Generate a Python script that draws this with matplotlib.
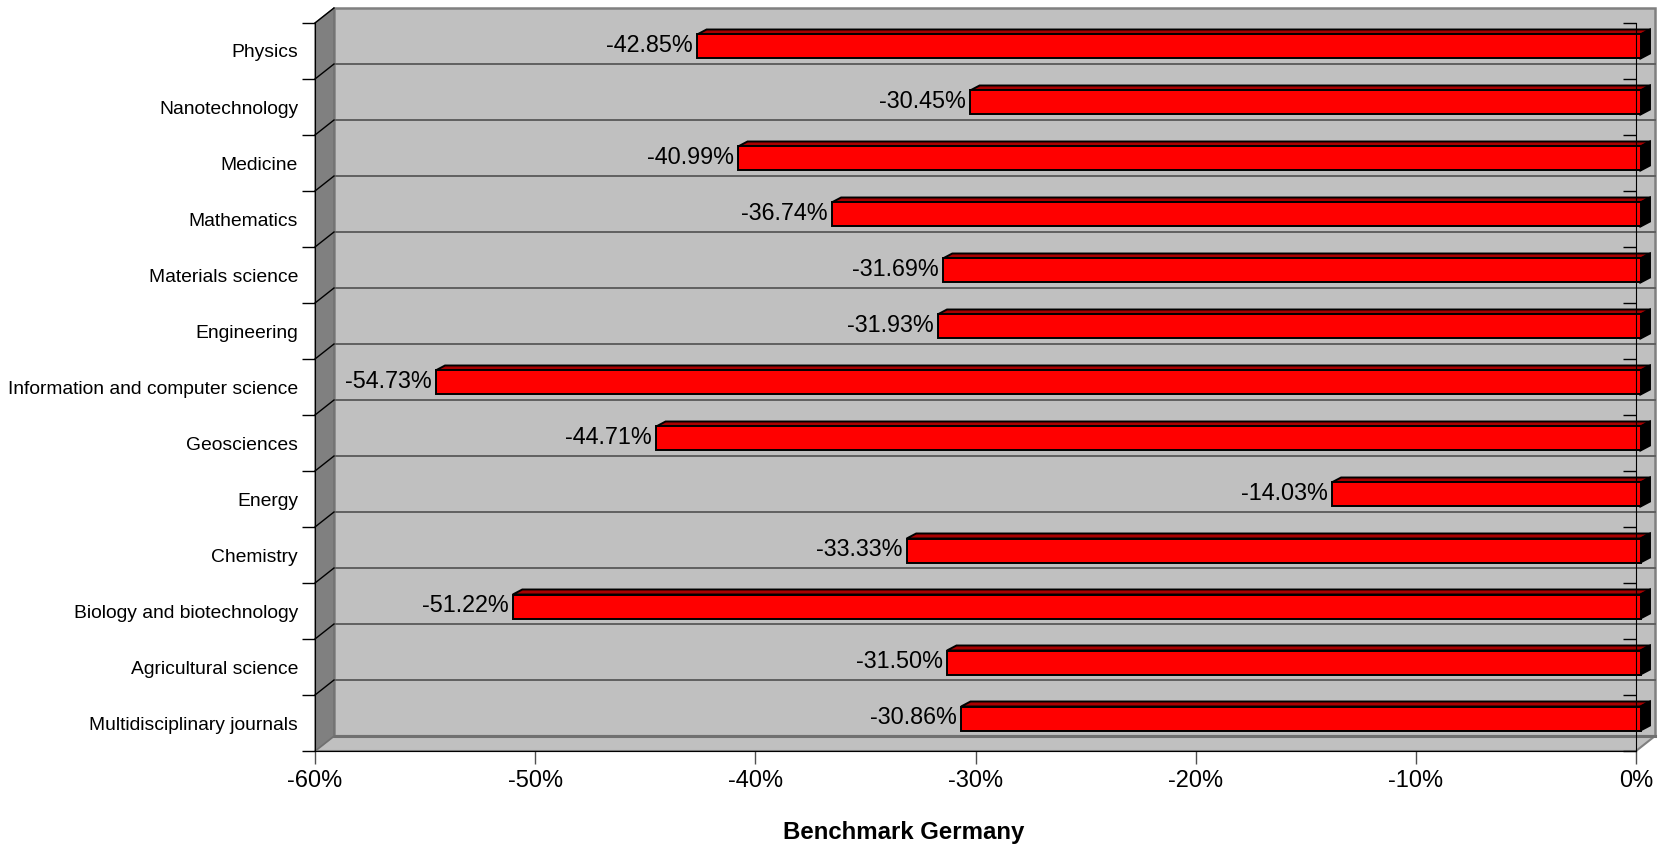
import matplotlib
matplotlib.use("Agg")
import matplotlib.pyplot as plt
from matplotlib.patches import Polygon, Rectangle

plt.rcParams['font.family'] = ['Liberation Sans', 'DejaVu Sans']

# ---- data (top to bottom as shown) ----
categories = ["Physics", "Nanotechnology", "Medicine", "Mathematics",
              "Materials science", "Engineering",
              "Information and computer science", "Geosciences", "Energy",
              "Chemistry", "Biology and biotechnology", "Agricultural science",
              "Multidisciplinary journals"]
values = [-42.85, -30.45, -40.99, -36.74, -31.69, -31.93, -54.73,
          -44.71, -14.03, -33.33, -51.22, -31.50, -30.86]
xticks = [-60, -50, -40, -30, -20, -10, 0]
xticklabels = ["-60%", "-50%", "-40%", "-30%", "-20%", "-10%", "0%"]
xlabel = "Benchmark Germany"

W, H = 1660, 846
fig = plt.figure(figsize=(W / 100, H / 100), dpi=100)

L, R, T, B = 315, 1636, 23, 751
ax = fig.add_axes([L / W, 1 - B / H, (R - L) / W, (B - T) / H])
n = len(categories)
xmin, xmax = xticks[0], xticks[-1]
ax.set_xlim(xmin, xmax)
ax.set_ylim(-0.5, n - 0.5)
ax.patch.set_visible(False)

# pixel -> data conversion
px_x = (xmax - xmin) / (R - L)
px_y = n / (B - T)
DXP, DYP = 19, 15
dx = DXP * px_x
dy = DYP * px_y
ylo, yhi = -0.5, n - 0.5

wall = '#C0C0C0'
side = '#808080'
edge = '#808080'

# back wall
ax.add_patch(Rectangle((xmin + dx, ylo + dy), xmax - xmin, n, facecolor=wall,
                       edgecolor=edge, lw=1.8, clip_on=False, zorder=0.5))
# gridlines on back wall
for k in range(1, n):
    ax.plot([xmin + dx, xmax + dx], [ylo + k + dy] * 2, color='#606060',
            lw=1.4, clip_on=False, zorder=0.6)
# floor
ax.add_patch(Polygon([(xmin, ylo), (xmax, ylo), (xmax + dx, ylo + dy),
                      (xmin + dx, ylo + dy)], closed=True, facecolor=wall,
                     edgecolor=edge, lw=1.5, clip_on=False, zorder=0.7))
ax.plot([xmin + dx, xmax + dx], [ylo + dy] * 2, color='#707070', lw=2.2,
        clip_on=False, zorder=0.75)
# side wall
ax.add_patch(Polygon([(xmin, ylo), (xmin + dx, ylo + dy), (xmin + dx, yhi + dy),
                      (xmin, yhi)], closed=True, facecolor=side,
                     edgecolor='#707070', lw=1.0, clip_on=False, zorder=0.8))
for k in range(1, n + 1):
    ax.plot([xmin, xmin + dx], [ylo + k, ylo + k + dy], color='black', lw=1.0,
            clip_on=False, zorder=0.85)

# bars (front / back face offsets in pixels)
ox1, oy1 = 4.5 * px_x, 4.5 * px_y
ox2, oy2 = 14 * px_x, 9.5 * px_y
bh = 24 * px_y
for idx, (cat, v) in enumerate(zip(categories, values)):
    y = n - 1 - idx
    y0, y1 = y - bh / 2, y + bh / 2
    # top face
    ax.add_patch(Polygon([(v + ox1, y1 + oy1), (0 + ox1, y1 + oy1),
                          (0 + ox2, y1 + oy2), (v + ox2, y1 + oy2)],
                         closed=True, facecolor='#A80000', edgecolor='black',
                         lw=1.4, clip_on=False, zorder=2))
    # right face
    ax.add_patch(Polygon([(0 + ox1, y0 + oy1), (0 + ox2, y0 + oy2),
                          (0 + ox2, y1 + oy2), (0 + ox1, y1 + oy1)],
                         closed=True, facecolor='black', edgecolor='black',
                         lw=1.4, clip_on=False, zorder=2))
    # front face
    ax.add_patch(Rectangle((v + ox1, y0 + oy1), 0 - v, bh, facecolor='#FF0000',
                           edgecolor='black', lw=1.4, clip_on=False, zorder=3))
    ax.annotate(f"{v:.2f}%", xy=(v + ox1, y + oy1), xytext=(-3, 0.5),
                textcoords='offset points', ha='right', va='center',
                fontsize=16.8, color='black', zorder=4, annotation_clip=False)

# axes styling
for s in ['top', 'right']:
    ax.spines[s].set_visible(False)
ax.spines['left'].set_color('black')
ax.spines['bottom'].set_color('black')
ax.spines['left'].set_zorder(5)
ax.spines['bottom'].set_zorder(5)

ax.set_yticks(range(n))
ax.set_yticklabels(categories[::-1], fontsize=13.9)
ax.set_yticks([ylo + k for k in range(n + 1)], minor=True)
ax.tick_params(axis='y', which='major', length=0, pad=12.2)
ax.tick_params(axis='y', which='minor', length=9.4, width=1, color='black',
               direction='out')
ax.set_xticks(xticks)
ax.set_xticklabels(xticklabels, fontsize=17)
ax.tick_params(axis='x', which='major', length=9.4, width=1, color='#505050',
               pad=4)

fig.text(904 / W, 1 - 832 / H, xlabel, ha='center', va='center',
         fontsize=17.3, fontweight='bold')

# front vertical line at 0 with inward ticks
ax2 = ax.twinx()
ax2.set_ylim(ax.get_ylim())
ax2.patch.set_visible(False)
for s in ['top', 'left', 'bottom']:
    ax2.spines[s].set_visible(False)
ax2.spines['right'].set_color('black')
ax2.set_yticks([ylo + k for k in range(n + 1)])
ax2.tick_params(axis='y', direction='in', length=9.4, width=1, color='black',
                labelright=False)

fig.savefig("out.png", dpi=100)
